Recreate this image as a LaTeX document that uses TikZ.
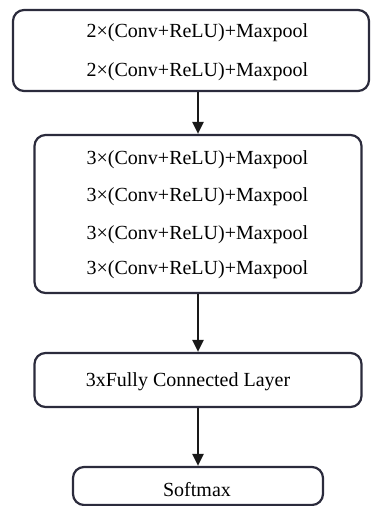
\documentclass[tikz,border=0pt]{standalone}
\usepackage{fontspec}
\setmainfont{Liberation Serif}
\usetikzlibrary{arrows.meta}
\definecolor{boxline}{HTML}{2B2B3C}
\tikzset{
	layerbox/.style = {draw = boxline, line width = 2.2pt, rounded corners = 11pt, inner sep = 0pt},
	layertext/.style = {font = \fontsize{20}{24}\selectfont, text = black, inner sep = 0pt},
	flow/.style = {-{Triangle[length = 12pt, width = 11pt]}, line width = 2.2pt, black!90}
}
\begin{document}
\begin{tikzpicture}[x = 1pt, y = -1pt]
	\useasboundingbox (0,0) rectangle (370,506);
	% boxes
	\node[layerbox, minimum width = 356pt, minimum height = 81pt] (block1) at (191,50.5) {};
	\node[layerbox, minimum width = 327pt, minimum height = 158pt] (block2) at (198,214) {};
	\node[layerbox, minimum width = 327pt, minimum height = 54pt] (fc) at (198,380) {};
	\node[layerbox, minimum width = 250pt, minimum height = 38pt] (soft) at (198,486) {};
	% texts
	\node[layertext] (b1a) at (197.5,33) {2×(Conv+ReLU)+Maxpool};
	\node[layertext] (b1b) at (197.5,72) {2×(Conv+ReLU)+Maxpool};
	\foreach \y/\n in {160/a, 197/b, 235/c, 270/d}
		\node[layertext] (b2\n) at (197.5,\y) {3×(Conv+ReLU)+Maxpool};
	\node[layertext] (fctext) at (188,382) {3xFully Connected Layer};
	\node[layertext] (softtext) at (197,490) {Softmax};
	% arrows
	\draw[flow] (block1.south -| block2.north) -- (block2.north);
	\draw[flow] (block2.south) -- (fc.north);
	\draw[flow] (fc.south) -- (soft.north);
\end{tikzpicture}
\end{document}
